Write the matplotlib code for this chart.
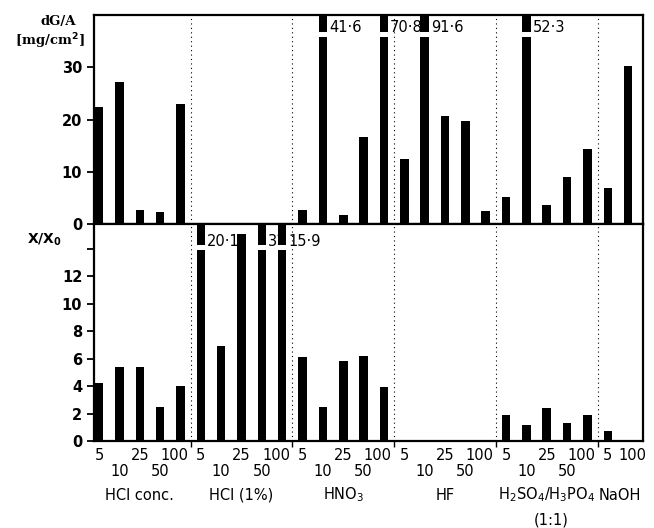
import matplotlib
matplotlib.use('Agg')
import matplotlib.pyplot as plt
from matplotlib.patches import Rectangle

# ---- data ----
groups = ["HCl conc.", "HCl (1%)", "HNO$_3$", "HF", "H$_2$SO$_4$/H$_3$PO$_4$", "NaOH"]
concentrations = [[5, 10, 25, 50, 100], [5, 10, 25, 50, 100], [5, 10, 25, 50, 100],
                  [5, 10, 25, 50, 100], [5, 10, 25, 50, 100], [5, 100]]
dga = [22.3, 27.1, 2.6, 2.3, 22.9,
       0.0, 0.2, 0.0, 0.0, 0.0,
       2.7, 41.6, 1.7, 16.7, 70.8,
       12.5, 91.6, 20.6, 19.8, 2.5,
       5.2, 52.3, 3.7, 9.0, 14.4,
       6.9, 30.2]
xx0 = [4.2, 5.4, 5.4, 2.5, 4.0,
       20.1, 6.9, 15.1, 31.0, 15.9,
       6.1, 2.5, 5.8, 6.2, 3.9,
       0.1, 0.0, 0.0, 0.0, 0.0,
       1.9, 1.2, 2.4, 1.3, 1.9,
       0.7, 0.0]
dga_labels = {11: "41·6", 14: "70·8", 16: "91·6", 21: "52·3"}
xx0_labels = {5: "20·1", 8: "31", 9: "15·9"}

# ---- layout ----
W, H = 654, 528
fig = plt.figure(figsize=(W / 100, H / 100), dpi=100)
L, R = 94, 643
ax1 = fig.add_axes([L / W, 1 - 224 / H, (R - L) / W, (224 - 15) / H])
ax2 = fig.add_axes([L / W, 1 - 441 / H, (R - L) / W, (441 - 224) / H])

n = len(dga)
xs = list(range(n))
bw = 0.42
XLIM = (-0.25, 26.73)
top1, top2 = 40.0, 15.8
gap1, gap2 = (35.8, 36.8), (13.9, 14.3)

# separators between groups
seps = []
c = 0
for g in concentrations[:-1]:
    c += len(g)
    seps.append(c - 0.5)

for ax, vals, top, gap, labels, ly in [
        (ax1, dga, top1, gap1, dga_labels, 37.7),
        (ax2, xx0, top2, gap2, xx0_labels, 14.5)]:
    ax.bar(xs, vals, width=bw, color='black', zorder=3)
    ax.set_xlim(*XLIM)
    ax.set_ylim(0, top)
    for i, v in enumerate(vals):
        if v > top:
            ax.add_patch(Rectangle((i - bw / 2 - 0.05, gap[0]), bw + 0.1, gap[1] - gap[0],
                                   facecolor='white', edgecolor='none', zorder=4))
    for i, t in labels.items():
        ax.text(i + 0.3, ly, t, ha='left', va='center', fontsize=10.5, zorder=2)
    for s in seps:
        ax.axvline(s, color='black', lw=0.8, ls=(0, (1, 3)), zorder=1)
    for sp in ax.spines.values():
        sp.set_linewidth(1.6)
    ax.tick_params(axis='y', direction='out', length=5, width=1.3, labelsize=10.5,
                   left=True, right=False)

ax1.set_yticks([0, 10, 20, 30])
ax1.set_xticks([])
ax2.set_yticks([0, 2, 4, 6, 8, 10, 12, 14])
ax2.set_yticklabels(['0', '2', '4', '6', '8', '10', '12', ''])
for lab in ax1.get_yticklabels() + ax2.get_yticklabels():
    lab.set_fontweight('bold')
ax2.set_xticks(seps)
ax2.set_xticklabels([])
ax2.tick_params(axis='x', direction='out', length=4, width=1.0)

# y-axis titles
fig.text(58 / W, 1 - 21 / H, "dG/A", ha='center', va='center', fontsize=9.5,
         family='DejaVu Serif', fontweight='bold')
fig.text(50 / W, 1 - 41 / H, "[mg/cm$^\\mathbf{2}$]", ha='center', va='center', fontsize=9.5,
         family='DejaVu Serif', fontweight='bold')
fig.text(44 / W, 1 - 240 / H, "X/X$_\\mathbf{0}$", ha='center', va='center', fontsize=10,
         fontweight='bold')

# x labels (concentration rows + group names)
tr = ax2.get_xaxis_transform()
ax_h = 441 - 224
row1 = (441 - 455) / ax_h
row2 = (441 - 472) / ax_h
row3 = (441 - 495) / ax_h
row4 = (441 - 520) / ax_h
start = 0
for gi, (g, conc) in enumerate(zip(groups, concentrations)):
    for j, cval in enumerate(conc):
        x = start + j
        if len(conc) == 5:
            row = row1 if j % 2 == 0 else row2
            if cval == 100:
                x -= 0.3
        else:
            row = row1
            if cval == 100:
                x += 0.2
        ax2.text(x, row, str(cval), transform=tr, ha='center', va='center', fontsize=10.5)
    center = start + (len(conc) - 1) / 2
    if len(conc) == 2:
        center = start + 0.6
    ax2.text(center, row3, g, transform=tr, ha='center', va='center', fontsize=10.5)
    if gi == 4:
        ax2.text(center + 0.2, row4, "(1:1)", transform=tr, ha='center', va='center',
                 fontsize=10.5)
    start += len(conc)

fig.savefig('out.png', dpi=100)
